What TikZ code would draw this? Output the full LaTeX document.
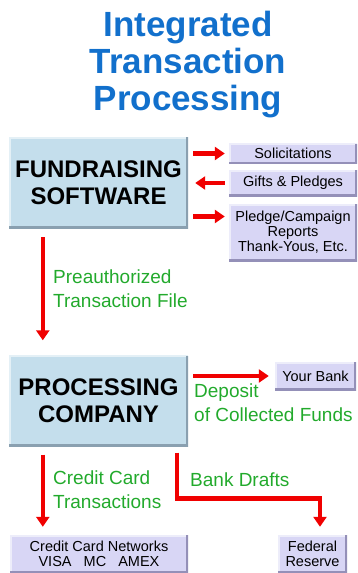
\documentclass[tikz,border=0pt]{standalone}
\usepackage{fontspec}
\setmainfont{Liberation Sans}
\usetikzlibrary{arrows.meta}

\definecolor{titleblue}{RGB}{18,112,204}
\definecolor{boxblue}{RGB}{196,222,236}
\definecolor{boxblueedge}{RGB}{138,160,176}
\definecolor{boxlilac}{RGB}{216,214,245}
\definecolor{boxlilacedge}{RGB}{148,144,184}
\definecolor{flowgreen}{RGB}{34,170,44}
\definecolor{flowred}{RGB}{240,0,0}

\begin{document}
\begin{tikzpicture}[x=1pt,y=-1pt,
    titletext/.style={titleblue, align=center, inner sep=0pt,
        font=\fontsize{35}{37}\selectfont\bfseries},
    bigbox/.style={fill=boxblue, minimum width=179pt, minimum height=91pt,
        inner sep=0pt, align=center, font=\fontsize{24}{27}\selectfont\bfseries,
        path picture={
            \draw[white!55!boxblue, line width=3pt]
                (path picture bounding box.south west) -- (path picture bounding box.north west)
                -- (path picture bounding box.north east);
            \draw[boxblueedge, line width=5pt]
                (path picture bounding box.south west) -- (path picture bounding box.south east)
                -- (path picture bounding box.north east);}},
    smallbox/.style={fill=boxlilac, minimum width=128pt, inner sep=0pt,
        align=center, font=\fontsize{14.5}{15}\selectfont,
        path picture={
            \draw[white!55!boxlilac, line width=3pt]
                (path picture bounding box.south west) -- (path picture bounding box.north west)
                -- (path picture bounding box.north east);
            \draw[boxlilacedge, line width=4pt]
                (path picture bounding box.south west) -- (path picture bounding box.south east)
                -- (path picture bounding box.north east);}},
    redflow/.style={flowred, line width=4.5pt, -{Triangle[length=10pt,width=13pt]}},
    lbl/.style={flowgreen, align=left, inner sep=0pt, anchor=north west,
        font=\fontsize{19}{24}\selectfont}]

    \useasboundingbox (0,0) rectangle (357,573);

    % Title
    \node[titletext] (title) at (188,65) {Integrated\\Transaction\\Processing};

    % Fundraising software and its outputs
    \node[bigbox] (fund) at (98.5,182.5) {FUNDRAISING\\SOFTWARE};
    \node[smallbox, minimum height=20pt] (sol) at (293,153.5) {Solicitations};
    \node[smallbox, minimum height=26pt] (gift) at (293,183) {Gifts \& Pledges};
    \node[smallbox, minimum height=57pt] (rep) at (293,232.5) {Pledge/Campaign\\Reports\\Thank-Yous, Etc.};
    \coordinate (repin) at ([yshift=16pt]rep.west);

    \draw[redflow, shorten <=5pt, shorten >=4pt] (fund.east |- sol.west) -- (sol.west);
    \draw[redflow, shorten <=4pt, shorten >=7pt] (gift.west) -- (fund.east |- gift.west);
    \draw[redflow, shorten <=5pt, shorten >=4pt] (fund.east |- repin) -- (repin);

    % Processing company
    \node[bigbox] (proc) at (98.5,401) {PROCESSING\\COMPANY};
    \node[smallbox, minimum width=81pt, minimum height=28pt] (bank) at (315.5,376) {Your Bank};

    \draw[redflow, shorten <=9pt, shorten >=15pt]
        ([xshift=34pt]fund.south west) -- ([xshift=34pt]proc.north west);
    \node[lbl] (prelbl) at (53,270) {Preauthorized\\Transaction File};

    \draw[redflow, shorten <=5pt, shorten >=6pt] (proc.east |- bank.west) -- (bank.west);
    \node[lbl] (deplbl) at (194,384) {Deposit\\of Collected Funds};

    % Networks and Federal Reserve
    \node[smallbox, minimum width=178pt, minimum height=38pt] (ccnet) at (99,554) {Credit Card Networks\\VISA~~~MC~~~AMEX};
    \node[smallbox, minimum width=69pt, minimum height=38pt] (fed) at (312.5,554) {Federal\\Reserve};

    \draw[redflow, shorten <=8pt, shorten >=8pt]
        ([xshift=34pt]proc.south west) -- ([xshift=33pt]ccnet.north west);
    \node[lbl] (cclbl) at (53,471) {Credit Card\\Transactions};

    \draw[redflow, shorten <=6pt, shorten >=8pt]
        ([xshift=-11pt]proc.south east) -- ++(0,52) -| ([xshift=7.5pt]fed.north);
    \node[lbl] (draftlbl) at (190,473) {Bank Drafts};
\end{tikzpicture}
\end{document}
